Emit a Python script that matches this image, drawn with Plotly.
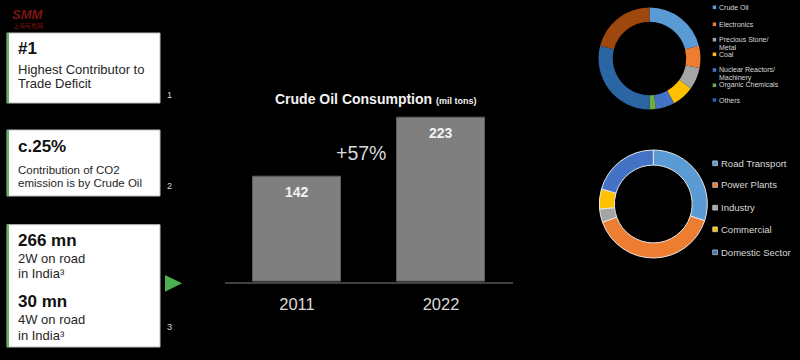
import plotly.graph_objects as go

W, H = 800, 360

# ---------------- data ----------------
years = ["2011", "2022"]
consumption = [142, 223]

trade_labels = ["Crude Oil", "Electronics", "Precious Stone/<br>Metal", "Coal",
                "Nuclear Reactors/<br>Machinery", "Organic Chemicals", "Others", "Other items"]
trade_values = [21, 7, 7, 7, 6, 2, 29, 21]
trade_colors = ["#5b9bd5", "#ed7d31", "#a5a5a5", "#ffc000", "#4472c4", "#70ad47", "#2b65a3", "#9e480e"]
trade_legend_count = 7

sector_labels = ["Road Transport", "Power Plants", "Industry", "Commercial", "Domestic Sector"]
sector_values = [30, 39.5, 4, 6, 20.5]
sector_colors = ["#5b9bd5", "#ed7d31", "#a5a5a5", "#ffc000", "#4472c4"]

stat_heads = ["#1", "c.25%", "266 mn", "30 mn"]
stat_lines = [["Highest Contributor to", "Trade Deficit"],
              ["Contribution of CO2", "emission is by Crude Oil"],
              ["2W on road", "in India³"],
              ["4W on road", "in India³"]]
footnotes = ["1", "2", "3"]


def px(x):
    return x / W


def py(y):
    return 1 - y / H


fig = go.Figure()

# ---------------- bar chart ----------------
fig.add_trace(go.Bar(
    x=years, y=consumption, width=0.61,
    marker=dict(color="#7f7f7f", line=dict(color="#5c5c5c", width=1)),
    hoverinfo="skip", showlegend=False,
))

annotations = []
for i, v in enumerate(consumption):
    annotations.append(dict(x=i, y=v, xref="x", yref="y", text=f"<b>{v}</b>",
                            showarrow=False, xanchor="center", yanchor="middle", yshift=-15,
                            font=dict(size=14, color="#f2f2f2", family="Liberation Sans, Arial")))

growth = (consumption[1] - consumption[0]) / consumption[0] * 100
annotations.append(dict(x=px(361), y=py(153), xref="paper", yref="paper", xanchor="center",
                        text=f"+{growth:.0f}%", showarrow=False,
                        font=dict(size=19.5, color="#d9d9d9", family="Liberation Sans, Arial")))

annotations.append(dict(x=px(272.5), y=py(89), xref="paper", yref="paper", xanchor="left",
                        text="<b>Crude Oil Consumption</b> <b><span style='font-size:9px'>(mil tons)</span></b>",
                        showarrow=False,
                        font=dict(size=14, color="#f2f2f2", family="Liberation Sans, Arial")))

# ---------------- donuts ----------------
fig.add_trace(go.Pie(
    labels=trade_labels, values=trade_values, hole=0.72, sort=False,
    direction="clockwise", rotation=0, textinfo="none", hoverinfo="skip",
    marker=dict(colors=trade_colors, line=dict(width=0)),
    domain=dict(x=[px(598.5), px(700.5)], y=[py(109.5), py(7.5)]),
    showlegend=False,
))
fig.add_trace(go.Pie(
    labels=sector_labels, values=sector_values, hole=0.72, sort=False,
    direction="clockwise", rotation=0, textinfo="none", hoverinfo="skip",
    marker=dict(colors=sector_colors, line=dict(width=1, color="#e6e6e6")),
    domain=dict(x=[px(599.3), px(707.3)], y=[py(258), py(150)]),
    showlegend=False,
))

shapes = []

# legend 1 (custom)
leg1_y = [7.3, 24.3, 39.7, 54.3, 70, 85.3, 100]
for i in range(trade_legend_count):
    y0 = leg1_y[i]
    shapes.append(dict(type="rect", xref="paper", yref="paper",
                       x0=px(712.7), x1=px(716.2), y0=py(y0 + 1.8), y1=py(y0 - 1.8),
                       fillcolor=trade_colors[i], line=dict(width=0)))
    for j, line in enumerate(trade_labels[i].split("<br>")):
        annotations.append(dict(x=px(717), y=py(y0 + 8 * j), xref="paper", yref="paper",
                                xanchor="left", yanchor="middle", text=line, showarrow=False,
                                font=dict(size=7, color="#d9d9d9", family="Liberation Sans, Arial")))

# legend 2 (custom)
leg2_y = [163.3, 185, 207.7, 229.3, 252.3]
for i, lab in enumerate(sector_labels):
    y0 = leg2_y[i]
    shapes.append(dict(type="rect", xref="paper", yref="paper",
                       x0=px(712.7), x1=px(717.5), y0=py(y0 + 2.4), y1=py(y0 - 2.4),
                       fillcolor=sector_colors[i], line=dict(width=0.6, color="#e6e6e6")))
    annotations.append(dict(x=px(718.8), y=py(y0), xref="paper", yref="paper",
                            xanchor="left", yanchor="middle", text=lab, showarrow=False,
                            font=dict(size=9.5, color="#d9d9d9", family="Liberation Sans, Arial")))

# ---------------- left stat boxes ----------------
boxes = [(33, 103), (130, 196), (224.7, 347)]
for (t, b) in boxes:
    shapes.append(dict(type="rect", xref="paper", yref="paper",
                       x0=px(7), x1=px(160), y0=py(b), y1=py(t),
                       fillcolor="white", line=dict(color="#bfbfbf", width=1)))
    shapes.append(dict(type="rect", xref="paper", yref="paper",
                       x0=px(7), x1=px(9), y0=py(b), y1=py(t),
                       fillcolor="#5cb85c", line=dict(width=0)))

head_y = [49, 146.7, 240.7, 301.7]
line_y = [[70, 83.3], [170, 183.3], [258.3, 273.3], [319, 335]]
line_size = [13, 11.5, 13, 13]
for k, head in enumerate(stat_heads):
    annotations.append(dict(x=px(15.5), y=py(head_y[k]), xref="paper", yref="paper",
                            xanchor="left", yanchor="middle", text=f"<b>{head}</b>", showarrow=False,
                            font=dict(size=17, color="#111111", family="Liberation Sans, Arial")))
    for j, ln in enumerate(stat_lines[k]):
        annotations.append(dict(x=px(15.5), y=py(line_y[k][j]), xref="paper", yref="paper",
                                xanchor="left", yanchor="middle", text=ln, showarrow=False,
                                font=dict(size=line_size[k], color="#262626",
                                          family="Liberation Sans, Arial")))

foot_y = [95, 186, 327]
for k, fn in enumerate(footnotes):
    annotations.append(dict(x=px(169.5), y=py(foot_y[k]), xref="paper", yref="paper",
                            xanchor="center", yanchor="middle", text=fn, showarrow=False,
                            font=dict(size=9, color="#d9d9d9", family="Liberation Sans, Arial")))

# green arrow
shapes.append(dict(type="path", xref="paper", yref="paper",
                   path=f"M {px(165)} {py(275)} L {px(182)} {py(283.3)} L {px(165)} {py(291.7)} Z",
                   fillcolor="#4caf50", line=dict(width=0)))

# logo
annotations.append(dict(x=px(28), y=py(14.5), xref="paper", yref="paper",
                        xanchor="center", yanchor="middle",
                        text="<b><i>SMM</i></b>", showarrow=False,
                        font=dict(size=13, color="#7a1414", family="Liberation Sans, Arial")))
annotations.append(dict(x=px(28), y=py(26), xref="paper", yref="paper",
                        xanchor="center", yanchor="middle",
                        text="上海有色网", showarrow=False,
                        font=dict(size=6, color="#7a1414", family="Noto Sans CJK SC")))

fig.update_layout(
    width=W, height=H,
    margin=dict(l=0, r=0, t=0, b=0),
    paper_bgcolor="black", plot_bgcolor="black",
    xaxis=dict(domain=[px(225), px(513)], type="category", range=[-0.5, 1.5],
               showline=True, linecolor="#404040", linewidth=1.5,
               showgrid=False, zeroline=False, ticks="", ticklabelstandoff=7,
               tickfont=dict(size=16.5, color="#d9d9d9", family="Liberation Sans, Arial")),
    yaxis=dict(domain=[py(281.7), py(97.7)], range=[0, 250], visible=False,
               showgrid=False, zeroline=False),
    shapes=shapes, annotations=annotations,
    bargap=0,
)

fig.write_html("out.html", config={"displayModeBar": False},
               post_script="document.body.style.margin='0';")
